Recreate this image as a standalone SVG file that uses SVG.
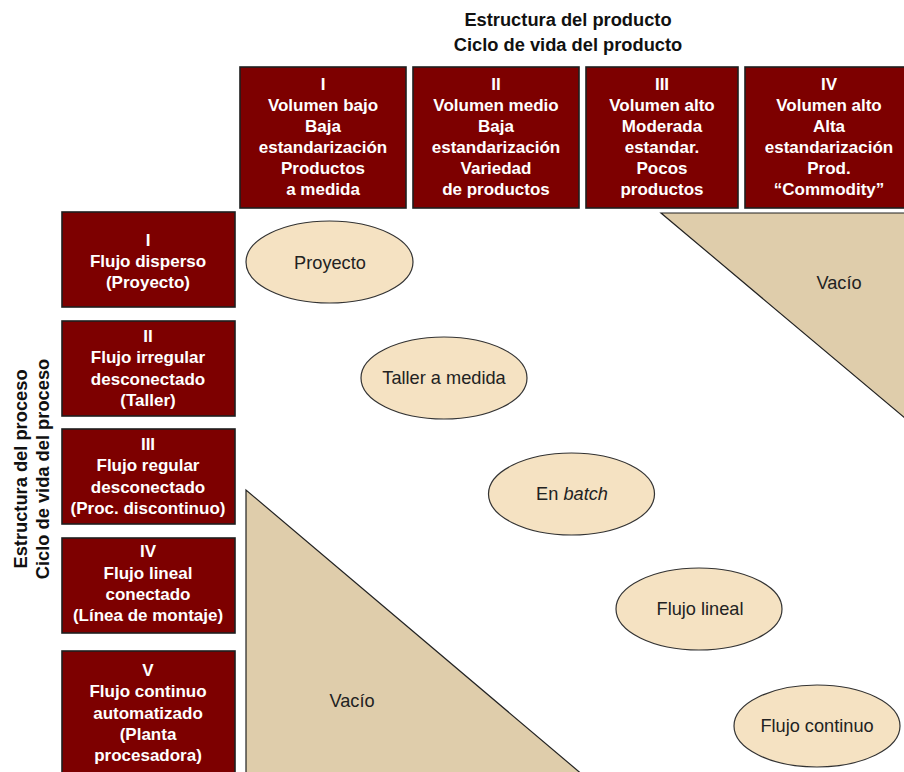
<svg xmlns="http://www.w3.org/2000/svg" width="904" height="772" viewBox="0 0 904 772">
<style>
.box{fill:#7d0000;stroke:#1e1e1e;stroke-width:1.6}
.bt{font-family:"Liberation Sans",Arial,sans-serif;font-weight:bold;font-size:17px;fill:#ffffff;text-anchor:middle}
.title{font-family:"Liberation Sans",Arial,sans-serif;font-weight:bold;font-size:18.3px;fill:#111;text-anchor:middle}
.ell{fill:#f5e2c2;stroke:#333;stroke-width:1.2}
.et{font-family:"Liberation Sans",Arial,sans-serif;font-size:18.2px;fill:#222;text-anchor:middle}
.tri{fill:#dfcdab;stroke:#222;stroke-width:1.2}
</style>
<rect width="904" height="772" fill="#ffffff"/>

<g id="titles">
<text class="title" x="568" y="26">Estructura del producto</text>
<text class="title" x="568" y="51">Ciclo de vida del producto</text>
<text class="title" transform="translate(27,469) rotate(-90)">Estructura del proceso</text>
<text class="title" transform="translate(49,469) rotate(-90)">Ciclo de vida del proceso</text>
</g>

<g id="voids">
<g id="void-top">
<polygon class="tri" points="661,213 906,213 906,419"/>
<text class="et" x="839" y="289">Vacío</text>
</g>
<g id="void-bottom">
<polygon class="tri" points="246,490 246,776 584,776"/>
<text class="et" x="352" y="707">Vacío</text>
</g>
</g>

<g id="col1">
<rect class="box" x="240" y="67" width="166" height="141"/>
<text class="bt" x="323" y="90">I</text>
<text class="bt" x="323" y="111">Volumen bajo</text>
<text class="bt" x="323" y="132">Baja</text>
<text class="bt" x="323" y="153">estandarización</text>
<text class="bt" x="323" y="174">Productos</text>
<text class="bt" x="323" y="195">a medida</text>
</g>
<g id="col2">
<rect class="box" x="413" y="67" width="166" height="141"/>
<text class="bt" x="496" y="90">II</text>
<text class="bt" x="496" y="111">Volumen medio</text>
<text class="bt" x="496" y="132">Baja</text>
<text class="bt" x="496" y="153">estandarización</text>
<text class="bt" x="496" y="174">Variedad</text>
<text class="bt" x="496" y="195">de productos</text>
</g>
<g id="col3">
<rect class="box" x="586" y="67" width="152" height="141"/>
<text class="bt" x="662" y="90">III</text>
<text class="bt" x="662" y="111">Volumen alto</text>
<text class="bt" x="662" y="132">Moderada</text>
<text class="bt" x="662" y="153">estandar.</text>
<text class="bt" x="662" y="174">Pocos</text>
<text class="bt" x="662" y="195">productos</text>
</g>
<g id="col4">
<rect class="box" x="745" y="67" width="170" height="141"/>
<text class="bt" x="829" y="90">IV</text>
<text class="bt" x="829" y="111">Volumen alto</text>
<text class="bt" x="829" y="132">Alta</text>
<text class="bt" x="829" y="153">estandarización</text>
<text class="bt" x="829" y="174">Prod.</text>
<text class="bt" x="829" y="195">“Commodity”</text>
</g>

<g id="row1">
<rect class="box" x="62" y="212" width="173" height="95"/>
<text class="bt" x="148" y="246">I</text>
<text class="bt" x="148" y="267">Flujo disperso</text>
<text class="bt" x="148" y="288">(Proyecto)</text>
</g>
<g id="row2">
<rect class="box" x="62" y="321" width="173" height="95"/>
<text class="bt" x="148" y="342">II</text>
<text class="bt" x="148" y="363">Flujo irregular</text>
<text class="bt" x="148" y="385">desconectado</text>
<text class="bt" x="148" y="406">(Taller)</text>
</g>
<g id="row3">
<rect class="box" x="62" y="429" width="173" height="95"/>
<text class="bt" x="148" y="450">III</text>
<text class="bt" x="148" y="471">Flujo regular</text>
<text class="bt" x="148" y="493">desconectado</text>
<text class="bt" x="148" y="514">(Proc. discontinuo)</text>
</g>
<g id="row4">
<rect class="box" x="62" y="538" width="173" height="95"/>
<text class="bt" x="148" y="557">IV</text>
<text class="bt" x="148" y="579">Flujo lineal</text>
<text class="bt" x="148" y="600">conectado</text>
<text class="bt" x="148" y="621">(Línea de montaje)</text>
</g>
<g id="row5">
<rect class="box" x="62" y="651" width="173" height="126"/>
<text class="bt" x="148" y="676">V</text>
<text class="bt" x="148" y="697">Flujo continuo</text>
<text class="bt" x="148" y="719">automatizado</text>
<text class="bt" x="148" y="740">(Planta</text>
<text class="bt" x="148" y="761">procesadora)</text>
</g>

<g id="proyecto">
<ellipse class="ell" cx="329.5" cy="262" rx="83.5" ry="41"/>
<text class="et" x="330" y="269">Proyecto</text>
</g>
<g id="taller">
<ellipse class="ell" cx="444" cy="378" rx="83" ry="41"/>
<text class="et" x="444" y="384">Taller a medida</text>
</g>
<g id="batch">
<ellipse class="ell" cx="571.5" cy="494" rx="83" ry="41"/>
<text class="et" x="572" y="500">En <tspan font-style="italic">batch</tspan></text>
</g>
<g id="lineal">
<ellipse class="ell" cx="699" cy="609" rx="83" ry="41"/>
<text class="et" x="700" y="615">Flujo lineal</text>
</g>
<g id="continuo">
<ellipse class="ell" cx="817" cy="726" rx="83" ry="41"/>
<text class="et" x="817" y="732">Flujo continuo</text>
</g>

<g id="connectors"></g>
</svg>
